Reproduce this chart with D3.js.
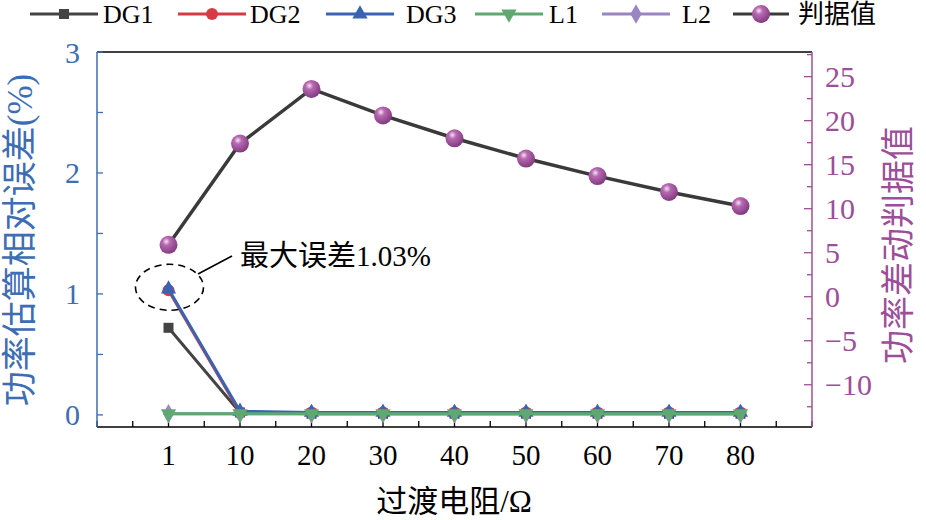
<!DOCTYPE html>
<html><head><meta charset="utf-8">
<script src="https://cdn.jsdelivr.net/npm/d3@7"></script>
<style>body{margin:0;background:#fff}svg{display:block}</style>
</head><body>
<svg id="c" width="926" height="520"></svg>
<script>
const categories = ["1","10","20","30","40","50","60","70","80"];
const DG1 = [0.72,0.02,0.01,0.01,0.01,0.01,0.01,0.01,0.01];
const DG2 = [1.03,0.02,0.02,0.02,0.02,0.02,0.02,0.02,0.02];
const DG3 = [1.04,0.03,0.02,0.02,0.02,0.02,0.02,0.02,0.02];
const L1  = [0.01,0.01,0.01,0.01,0.01,0.01,0.01,0.01,0.01];
const L2  = [0.01,0.01,0.01,0.01,0.01,0.01,0.01,0.01,0.01];
const judge = [5.9,17.4,23.6,20.6,18.0,15.7,13.7,11.9,10.3];
const leftTicks = [0,1,2,3];
const rightTicks = [-10,-5,0,5,10,15,20,25];

const BLUE = "#3d6db3", PURP = "#9c4f98";
const SERIF = "'Times New Roman','Liberation Serif','DejaVu Serif',serif";
const CJK = "'Times New Roman','Liberation Serif','Noto Sans CJK SC',serif";

const svg = d3.select("#c");
const L = 97, R = 812, T = 52, B = 427;
const x = d3.scaleLinear().domain([-1, 9]).range([L, R]);
const yL = d3.scaleLinear().domain([-0.1, 3]).range([B, T]);
const yR = d3.scaleLinear().domain([-14.8, 27.8]).range([B, T]);

const defs = svg.append("defs");
const g = defs.append("radialGradient").attr("id","sph").attr("cx","0.38").attr("cy","0.32").attr("r","0.7");
g.append("stop").attr("offset","0").attr("stop-color","#f4e4f2");
g.append("stop").attr("offset","0.3").attr("stop-color","#b868b2");
g.append("stop").attr("offset","1").attr("stop-color","#7f3a7c");

svg.append("line").attr("x1",L).attr("x2",R).attr("y1",T).attr("y2",T).attr("stroke","#000").attr("stroke-width",1.5);

const xMinor = d3.range(-1, 9.01, 0.5);
const bax = svg.append("g").attr("transform",`translate(0,${B})`);
bax.append("line").attr("x1",L).attr("x2",R).attr("stroke","#000").attr("stroke-width",1.5);
bax.selectAll("line.t").data(xMinor).join("line").attr("class","t")
  .attr("x1",d=>x(d)).attr("x2",d=>x(d)).attr("y1",0).attr("y2",-6).attr("stroke","#000").attr("stroke-width",1.3);
bax.selectAll("text").data(categories).join("text")
  .attr("x",(d,i)=>x(i)).attr("y",38).attr("text-anchor","middle")
  .attr("font-family",SERIF).attr("font-size",29).attr("fill","#000").text(d=>d);

const lax = svg.append("g").attr("transform",`translate(${L},0)`);
lax.append("line").attr("y1",T).attr("y2",B).attr("stroke",BLUE).attr("stroke-width",1.5);
lax.selectAll("line.t").data(d3.range(0,3.01,0.5)).join("line").attr("class","t")
  .attr("x1",0).attr("x2",6).attr("y1",d=>yL(d)).attr("y2",d=>yL(d)).attr("stroke",BLUE).attr("stroke-width",1.3);
lax.selectAll("text").data(leftTicks).join("text")
  .attr("x",-17).attr("y",d=>yL(d)).attr("dy","0.35em").attr("text-anchor","end")
  .attr("font-family",SERIF).attr("font-size",30).attr("fill",BLUE).text(d=>d);

const rax = svg.append("g").attr("transform",`translate(${R},0)`);
rax.append("line").attr("y1",T).attr("y2",B).attr("stroke",PURP).attr("stroke-width",1.5);
rax.selectAll("line.t").data(d3.range(-12.5,27.6,2.5)).join("line").attr("class","t")
  .attr("x1",0).attr("x2",d=>d%5===0?-8:-5).attr("y1",d=>yR(d)).attr("y2",d=>yR(d)).attr("stroke",PURP).attr("stroke-width",1.3);
const fmt = d3.format("d");
rax.selectAll("text").data(rightTicks).join("text")
  .attr("x",13).attr("y",d=>yR(d)).attr("dy","0.35em").attr("text-anchor","start")
  .attr("font-family",SERIF).attr("font-size",30).attr("fill",PURP).text(d=>fmt(d));

svg.append("text").attr("transform","translate(32,240) rotate(-90)").attr("text-anchor","middle")
  .attr("font-family",CJK).attr("font-size",35).attr("fill",BLUE).text("功率估算相对误差(%)");
svg.append("text").attr("transform","translate(910,245) rotate(-90)").attr("text-anchor","middle")
  .attr("font-family",CJK).attr("font-size",34).attr("fill",PURP).text("功率差动判据值");
svg.append("text").attr("x",454).attr("y",512).attr("text-anchor","middle")
  .attr("font-family",CJK).attr("font-size",31).attr("fill","#000").text("过渡电阻/Ω");

function marker(sel, type, color){
  if(type==="square") return sel.append("rect").attr("x",-5).attr("y",-5).attr("width",10).attr("height",10).attr("fill",color);
  if(type==="circle") return sel.append("circle").attr("r",6).attr("fill",color);
  if(type==="tri") return sel.append("path").attr("d",d3.symbol(d3.symbolTriangle,100)()).attr("fill",color);
  if(type==="tridown") return sel.append("path").attr("d",d3.symbol(d3.symbolTriangle,100)()).attr("transform","rotate(180)").attr("fill",color);
  if(type==="diamond") return sel.append("path").attr("d",d3.symbol(d3.symbolDiamond,110)()).attr("fill",color);
  if(type==="sphere") return sel.append("circle").attr("r",9).attr("fill","url(#sph)");
}

const lineR = d3.line().x((d,i)=>x(i)).y(d=>yR(d));
svg.append("path").attr("d",lineR(judge)).attr("fill","none").attr("stroke","#3a3a3a").attr("stroke-width",3.5);
judge.forEach((v,i)=>{ marker(svg.append("g").attr("transform",`translate(${x(i)},${yR(v)})`),"sphere"); });

const series = [
  {name:"DG1", data:DG1, color:"#444444", type:"square"},
  {name:"DG2", data:DG2, color:"#d83a45", type:"circle"},
  {name:"L2",  data:L2,  color:"#9a86c2", type:"diamond"},
  {name:"DG3", data:DG3, color:"#3a64b2", type:"tri"},
  {name:"L1",  data:L1,  color:"#5fa872", type:"tridown"}
];
const lineL = d3.line().x((d,i)=>x(i)).y(d=>yL(d));
series.forEach(s=>{
  svg.append("path").attr("d",lineL(s.data)).attr("fill","none").attr("stroke",s.color).attr("stroke-width",3);
  s.data.forEach((v,i)=>{ marker(svg.append("g").attr("transform",`translate(${x(i)},${yL(v)})`), s.type, s.color); });
});

svg.append("ellipse").attr("cx",x(0)+1).attr("cy",yL(1.03)-3).attr("rx",34).attr("ry",23)
  .attr("fill","none").attr("stroke","#000").attr("stroke-width",1.6).attr("stroke-dasharray","7,5");
svg.append("line").attr("x1",198).attr("y1",274).attr("x2",232).attr("y2",256).attr("stroke","#000").attr("stroke-width",1.6);
svg.append("text").attr("x",240).attr("y",266).attr("font-family",CJK).attr("font-size",29).attr("fill","#000").text("最大误差1.03%");

const legend = [
  {name:"DG1", color:"#444444", type:"square", lx:30, tx:103},
  {name:"DG2", color:"#d83a45", type:"circle", lx:178, tx:250},
  {name:"DG3", color:"#3a64b2", type:"tri", lx:326, tx:406},
  {name:"L1",  color:"#5fa872", type:"tridown", lx:475, tx:549},
  {name:"L2",  color:"#9a86c2", type:"diamond", lx:602, tx:682},
  {name:"判据值", color:"#3a3a3a", type:"sphere", lx:733, tx:798, w:56}
];
const lg = svg.append("g").attr("transform","translate(0,14)");
legend.forEach(l=>{
  const w = l.w||68;
  lg.append("line").attr("x1",l.lx).attr("x2",l.lx+w).attr("stroke",l.color).attr("stroke-width",3);
  marker(lg.append("g").attr("transform",`translate(${l.lx+w/2},0)`), l.type, l.color);
  lg.append("text").attr("x",l.tx).attr("y",0).attr("dy","0.35em").attr("font-family",CJK).attr("font-size",26).attr("fill","#000").text(l.name);
});
</script>
</body></html>
